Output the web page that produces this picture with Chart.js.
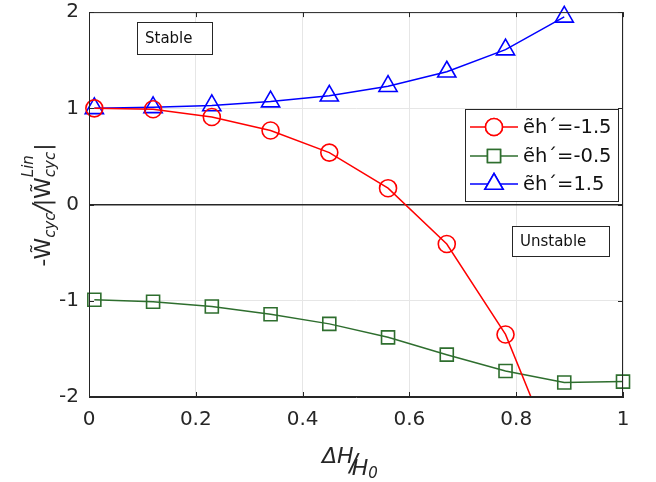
<!DOCTYPE html>
<html><head><meta charset="utf-8">
<script src="https://cdn.jsdelivr.net/npm/chart.js@4.4.1/dist/chart.umd.min.js"></script>
<style>html,body{margin:0;padding:0;background:#fff}#wrap{width:656px;height:482px}</style>
</head><body><div id="wrap"><canvas id="c" width="656" height="482"></canvas></div>
<script>
const xVals = [0.01,0.12,0.23,0.34,0.45,0.56,0.67,0.78,0.89,1.0];
const redVals = [1.00,0.99,0.91,0.77,0.54,0.17,-0.41,-1.35,-2.85];
const greenVals = [-0.99,-1.01,-1.06,-1.14,-1.24,-1.38,-1.56,-1.73,-1.85,-1.84];
const blueVals = [1.00,1.01,1.03,1.07,1.13,1.23,1.38,1.61,1.95];
const seriesLabels = ['ẽh´=-1.5','ẽh´=-0.5','ẽh´=1.5'];
const xTicks = [0,0.2,0.4,0.6,0.8,1];
const yTicks = [-2,-1,0,1,2];

const RED='#ff0000', GREEN='#2e6e2e', BLUE='#0000ff', AX='#262626';
const FONT='"DejaVu Sans", sans-serif';
const toPts = v => v.map((y,i)=>({x:xVals[i],y}));
const styles = [
  {c:RED, ps:'circle', r:8.5},
  {c:GREEN, ps:'rect', r:9.2},
  {c:BLUE, ps:'triangle', r:10.5}
];
const mk = (vals, i) => ({
  label: seriesLabels[i], data: toPts(vals), borderColor: styles[i].c, backgroundColor:'rgba(255,255,255,0)',
  borderWidth:1.5, pointStyle: styles[i].ps, pointRadius: styles[i].r, pointHoverRadius: styles[i].r,
  pointBorderWidth:1.6, pointBackgroundColor:'rgba(255,255,255,0)', pointBorderColor: styles[i].c,
  tension:0, clip:{left:12,top:12,right:12,bottom:0}
});

const deco = {
  id:'deco',
  afterDraw(chart){
    const ctx=chart.ctx, a=chart.chartArea, xs=chart.scales.x, ys=chart.scales.y;
    ctx.save();
    ctx.strokeStyle=AX; ctx.lineWidth=1;
    ctx.strokeRect(a.left+0.5,a.top+0.5,a.right-a.left-1,a.bottom-a.top-1);
    ctx.beginPath();
    xTicks.forEach(t=>{const px=Math.round(xs.getPixelForValue(t))+0.5;
      ctx.moveTo(px,a.bottom); ctx.lineTo(px,a.bottom-5); ctx.moveTo(px,a.top); ctx.lineTo(px,a.top+5);});
    yTicks.forEach(t=>{const py=Math.round(ys.getPixelForValue(t))+0.5;
      ctx.moveTo(a.left,py); ctx.lineTo(a.left+5,py); ctx.moveTo(a.right,py); ctx.lineTo(a.right-5,py);});
    ctx.stroke();
    const tbox=(x1,y1,x2,y2,txt)=>{
      ctx.fillStyle='#fff'; ctx.fillRect(x1,y1,x2-x1,y2-y1);
      ctx.strokeStyle=AX; ctx.lineWidth=1; ctx.strokeRect(x1+0.5,y1+0.5,x2-x1,y2-y1);
      ctx.fillStyle='#111'; ctx.font='15px '+FONT; ctx.textBaseline='middle'; ctx.textAlign='left';
      ctx.fillText(txt,x1+8,(y1+y2)/2+1);
    };
    tbox(137,22,212,54,'Stable');
    tbox(512,226,609,256,'Unstable');
    const L={x1:465,y1:109,x2:618,y2:201};
    ctx.fillStyle='#fff'; ctx.fillRect(L.x1,L.y1,L.x2-L.x1,L.y2-L.y1);
    ctx.strokeStyle=AX; ctx.lineWidth=1; ctx.strokeRect(L.x1+0.5,L.y1+0.5,L.x2-L.x1,L.y2-L.y1);
    const rows=[127,156,184];
    chart.data.datasets.forEach((ds,i)=>{
      const y=rows[i];
      ctx.strokeStyle=styles[i].c; ctx.lineWidth=1.5;
      ctx.beginPath(); ctx.moveTo(470,y); ctx.lineTo(518,y); ctx.stroke();
      ctx.fillStyle='#fff';
      Chart.helpers.drawPoint(ctx,{pointStyle:styles[i].ps,radius:styles[i].r,rotation:0,borderWidth:1.6},494,y);
      ctx.fill(); ctx.lineWidth=1.6; ctx.strokeStyle=styles[i].c; ctx.stroke();
      ctx.fillStyle='#111'; ctx.font='19.5px '+FONT; ctx.textBaseline='middle'; ctx.textAlign='left';
      ctx.fillText(ds.label,523,y+1);
    });
    ctx.fillStyle='#262626'; ctx.textBaseline='alphabetic'; ctx.textAlign='left';
    let x=322;
    ctx.font='italic 22px '+FONT; ctx.fillText('ΔH',x,463); x+=ctx.measureText('ΔH').width-4;
    ctx.font='italic 24px '+FONT; ctx.fillText('/',x,471); x+=ctx.measureText('/').width-6;
    ctx.font='italic 22px '+FONT; ctx.fillText('H',x,475); x+=ctx.measureText('H').width;
    ctx.font='italic 15px '+FONT; ctx.fillText('0',x,478);
    // y axis title
    ctx.translate(50,205); ctx.rotate(-Math.PI/2);
    const parts=[
      {t:'-W̃',f:'22px',dy:0},
      {t:'cyc',f:'italic 15px',dy:5},
      {t:'/',f:'italic 24px',dy:0,adv:-2},
      {t:'|W̃',f:'22px',dy:0},
      {t:'cyc',f:'italic 15px',dy:5,stack:true},
      {t:'Lin',f:'italic 15px',dy:-17,adv:1},
      {t:'|',f:'22px',dy:0}
    ];
    const ws=parts.map(p=>{ctx.font=p.f+' '+FONT; return ctx.measureText(p.t).width;});
    const advs=parts.map((p,i)=>{
      if(p.stack) return 0;
      if(i>0 && parts[i-1].stack) return Math.max(ws[i],ws[i-1])+(p.adv||0);
      return ws[i]+(p.adv||0);
    });
    const tot=advs.reduce((s,v)=>s+v,0);
    let u=-tot/2;
    parts.forEach((p,i)=>{ctx.font=p.f+' '+FONT; ctx.fillText(p.t,u,p.dy); u+=advs[i];});
    ctx.restore();
  }
};

new Chart(document.getElementById('c'),{
  type:'line',
  data:{datasets:[mk(redVals,0),mk(greenVals,1),mk(blueVals,2)]},
  options:{
    responsive:false, animation:false, events:[],
    layout:{padding:{left:0,top:8,right:33,bottom:0}},
    plugins:{legend:{display:false},tooltip:{enabled:false}},
    scales:{
      x:{type:'linear',min:0,max:1,
        afterFit:s=>{s.height=85;s.paddingLeft=0;s.paddingRight=0;},
        afterBuildTicks:s=>{s.ticks=xTicks.map(v=>({value:v}));},
        ticks:{font:{family:'DejaVu Sans',size:20},color:'#262626',padding:11,maxRotation:0,callback:v=>String(v)},
        grid:{color:'#e6e6e6',drawTicks:false},
        border:{color:AX,width:1}},
      y:{type:'linear',min:-2,max:2,
        afterFit:s=>{s.width=89;s.paddingTop=0;s.paddingBottom=0;},
        afterBuildTicks:s=>{s.ticks=yTicks.map(v=>({value:v}));},
        ticks:{font:{family:'DejaVu Sans',size:20},color:'#262626',padding:10,callback:v=>String(v)},
        grid:{color:c=>c.tick&&c.tick.value===0?'#262626':'#e6e6e6',lineWidth:c=>c.tick&&c.tick.value===0?1.5:1,drawTicks:false},
        border:{color:AX,width:1}}
    }
  },
  plugins:[deco]
});
</script></body></html>
